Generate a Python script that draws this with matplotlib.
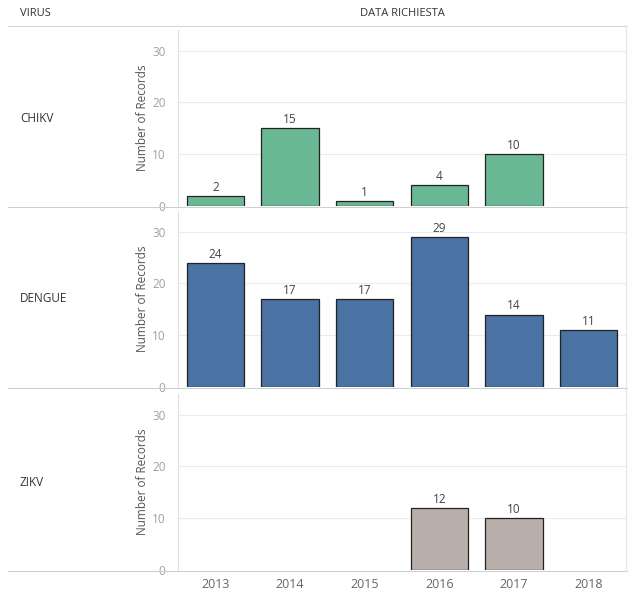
import matplotlib.pyplot as plt
from matplotlib.lines import Line2D

plt.rcParams['font.family'] = ['Open Sans', 'DejaVu Sans']

# conteggi per anno di richiesta, uno per virus
years = ["2013", "2014", "2015", "2016", "2017", "2018"]
viruses = ["CHIKV", "DENGUE", "ZIKV"]
chikv = [2, 15, 1, 4, 10, None]
dengue = [24, 17, 17, 29, 14, 11]
zikv = [None, None, None, 12, 10, None]
values = [chikv, dengue, zikv]
colors = ["#6ab794", "#4a72a2", "#b9afaa"]

W, H = 628, 597
fig = plt.figure(figsize=(W / 100, H / 100), dpi=100)
fig.patch.set_facecolor("white")

def fx(px):
    return px / W

def fy(py):
    return 1 - py / H

# (top, baseline) di ogni riquadro in pixel
rows = [(30, 206), (211, 387), (394, 570)]
x0, x1 = 178, 626

fig.text(fx(20), fy(14), "VIRUS", fontsize=8, color="#333333", va="center")
fig.text(fx((x0 + x1) / 2), fy(14), "DATA RICHIESTA", fontsize=8,
         color="#333333", va="center", ha="center")
fig.add_artist(Line2D([fx(8), fx(628)], [fy(26), fy(26)], color="#d6d6d6", lw=0.8))

for i, (name, vals, col) in enumerate(zip(viruses, values, colors)):
    top, base = rows[i]
    ax = fig.add_axes([fx(x0), fy(base), fx(x1 - x0), (base - top) / H])
    xs = [j for j, v in enumerate(vals) if v is not None]
    hs = [v for v in vals if v is not None]
    bars = ax.bar(xs, hs, width=0.77, color=col, edgecolor="#222222", linewidth=0.9, zorder=3)
    for b, v in zip(bars, hs):
        ax.annotate(str(v), (b.get_x() + b.get_width() / 2, v), xytext=(0, 1.5),
                    textcoords="offset points", ha="center", va="bottom",
                    fontsize=8.5, color="#444444")
    ax.set_xlim(-0.5, 5.5)
    ax.set_ylim(0, 34)
    ax.set_yticks([0, 10, 20, 30])
    ax.tick_params(axis="y", length=0, labelsize=8.5, labelcolor="#a0a0a0", pad=9)
    for g in [10, 20, 30]:
        ax.axhline(g, color="#ececec", lw=0.8, zorder=0)
    for s in ["top", "right", "bottom"]:
        ax.spines[s].set_visible(False)
    ax.spines["left"].set_color("#e0e0e0")
    ax.spines["left"].set_linewidth(0.8)
    ax.set_ylabel("Number of Records", fontsize=8.5, color="#555555", labelpad=2)
    ax.set_xticks(range(len(years)))
    if i == len(viruses) - 1:
        ax.set_xticklabels(years)
        ax.tick_params(axis="x", length=0, labelsize=9, labelcolor="#666666", pad=6)
    else:
        ax.tick_params(axis="x", length=0, labelbottom=False)
    ax.patch.set_alpha(0)

    # linea di base e separatore di riga su tutta la larghezza
    fig.add_artist(Line2D([fx(8), fx(628)], [fy(base + 1), fy(base + 1)],
                          color="#cfcfcf", lw=0.8))
    fig.text(fx(20), fy((top + base) / 2), name, fontsize=8.5, color="#333333",
             va="center", ha="left")

fig.add_artist(Line2D([fx(x1), fx(x1)], [fy(26), fy(571)], color="#e6e6e6", lw=0.8))

fig.savefig("out.png", dpi=100, facecolor="white")
